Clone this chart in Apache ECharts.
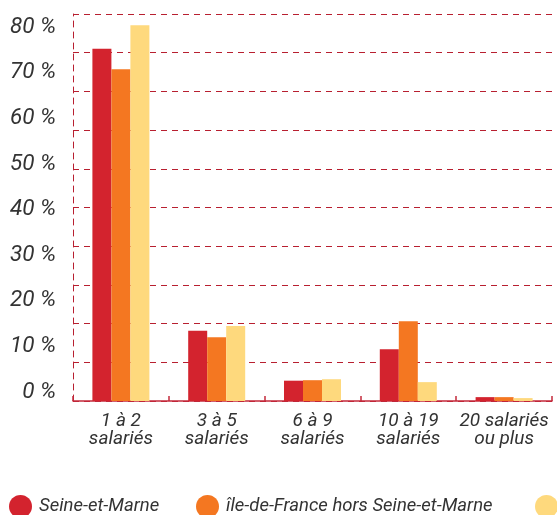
<!DOCTYPE html>
<html>
<head>
<meta charset="utf-8">
<script src="https://cdn.jsdelivr.net/npm/echarts@6/dist/echarts.min.js"></script>
<style>
html,body{margin:0;padding:0;background:#fff;}
#c{width:557px;height:515px;}
</style>
</head>
<body>
<div id="c"></div>
<script>
const categories = ['1 à 2\nsalariés', '3 à 5\nsalariés', '6 à 9\nsalariés', '10 à 19\nsalariés', '20 salariés\nou plus'];
const seriesNames = ['Seine-et-Marne', 'île-de-France hors Seine-et-Marne', 'France hors Île-de-France'];
const seineEtMarne = [72.8, 14.5, 4.2, 10.7, 0.8];
const idfHorsSeM = [68.6, 13.2, 4.3, 16.5, 0.8];
const troisieme = [77.7, 15.5, 4.5, 3.9, 0.6];
const yTickValues = [0, 10, 20, 30, 40, 50, 60, 70, 80];

const FONT = "Roboto, 'Liberation Sans', sans-serif";
const RED = '#d3232e', ORANGE = '#f47721', YELLOW = '#fed97d';
const GRIDRED = '#b81f30';
const TXT = '#333333';

const chart = echarts.init(document.getElementById('c'), null, {renderer: 'canvas'});

function legendAt(name, left) {
  return {
    data: [name], left: left, top: 495, padding: 0,
    icon: 'circle', itemWidth: 23, itemHeight: 23,
    textStyle: {fontFamily: FONT, fontStyle: 'italic', fontSize: 18.5, color: TXT, padding: [0, 0, 0, 2]},
    selectedMode: false
  };
}

chart.setOption({
  animation: false,
  backgroundColor: '#fff',
  legend: [legendAt(seriesNames[0], 9), legendAt(seriesNames[1], 196), legendAt(seriesNames[2], 535)],
  grid: [
    {left: 73, right: 5, top: 14, bottom: 114},
    {left: 73, right: 0, top: 14, bottom: 114},
    {left: 73, right: 0, top: 27, bottom: 123}
  ],
  xAxis: [
    {
      type: 'category', gridIndex: 0, data: categories,
      axisLine: {lineStyle: {color: '#c42a3b', width: 1.5}},
      axisTick: {show: true, inside: true, length: 5, lineStyle: {color: '#c42a3b', width: 1.5}},
      axisLabel: {interval: 0, fontFamily: FONT, fontStyle: 'italic', fontSize: 19, lineHeight: 18, color: TXT, margin: 11}
    },
    {type: 'value', gridIndex: 1, show: false, min: 0, max: 1},
    {type: 'value', gridIndex: 2, show: false, min: 0, max: 1}
  ],
  yAxis: [
    {type: 'value', gridIndex: 0, min: 0, max: 80, show: false},
    {
      type: 'value', gridIndex: 1, min: 0, max: 10, interval: 1,
      axisLine: {show: true, lineStyle: {color: GRIDRED, type: [6, 5], width: 1}},
      axisTick: {show: false}, axisLabel: {show: false},
      splitLine: {show: true, lineStyle: {color: GRIDRED, type: [6, 5], width: 1}}
    },
    {
      type: 'value', gridIndex: 2, min: yTickValues[0], max: yTickValues[yTickValues.length - 1], interval: 10,
      axisLine: {show: false}, axisTick: {show: false}, splitLine: {show: false},
      axisLabel: {formatter: '{value} %', fontFamily: FONT, fontStyle: 'italic', fontSize: 22.5, color: TXT, margin: 17}
    }
  ],
  series: [
    {name: seriesNames[0], type: 'bar', xAxisIndex: 0, yAxisIndex: 0, data: seineEtMarne, barWidth: 19, barGap: '0%', itemStyle: {color: RED}, z: 5},
    {name: seriesNames[1], type: 'bar', xAxisIndex: 0, yAxisIndex: 0, data: idfHorsSeM, barWidth: 19, barGap: '0%', itemStyle: {color: ORANGE}, z: 5},
    {name: seriesNames[2], type: 'bar', xAxisIndex: 0, yAxisIndex: 0, data: troisieme, barWidth: 19, barGap: '0%', itemStyle: {color: YELLOW}, z: 5}
  ]
});
</script>
</body>
</html>
